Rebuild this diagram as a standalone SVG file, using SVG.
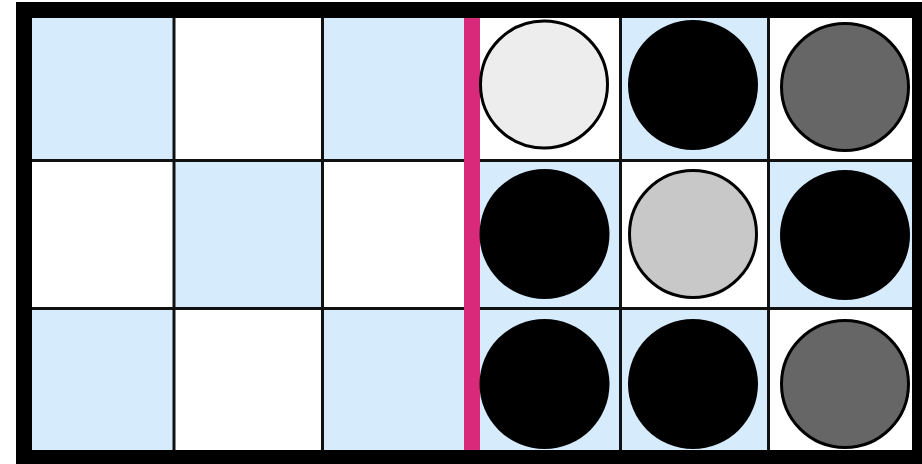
<svg xmlns="http://www.w3.org/2000/svg" width="922" height="464" viewBox="0 0 922 464">
<style>
.b{fill:#D6ECFD}
.w{fill:#FFFFFF}
.grid{stroke:#111111;stroke-width:3;fill:none}
.pk{stroke:none;fill:#000000}
.lt{fill:#EDEDED;stroke:#000000;stroke-width:3}
.md{fill:#C8C8C8;stroke:#000000;stroke-width:3}
.dk{fill:#666666;stroke:#000000;stroke-width:3}
</style>
<rect x="0" y="0" width="922" height="464" fill="#FFFFFF"/>
<g id="cells">
<rect class="b" x="32" y="18" width="142" height="142.5"/>
<rect class="w" x="174" y="18" width="148.5" height="142.5"/>
<rect class="b" x="322.5" y="18" width="149.5" height="142.5"/>
<rect class="w" x="472" y="18" width="148.5" height="142.5"/>
<rect class="b" x="620.5" y="18" width="148" height="142.5"/>
<rect class="w" x="768.5" y="18" width="143.5" height="142.5"/>
<rect class="w" x="32" y="160.5" width="142" height="148"/>
<rect class="b" x="174" y="160.5" width="148.5" height="148"/>
<rect class="w" x="322.5" y="160.5" width="149.5" height="148"/>
<rect class="b" x="472" y="160.5" width="148.5" height="148"/>
<rect class="w" x="620.5" y="160.5" width="148" height="148"/>
<rect class="b" x="768.5" y="160.5" width="143.5" height="148"/>
<rect class="b" x="32" y="308.5" width="142" height="141.5"/>
<rect class="w" x="174" y="308.5" width="148.5" height="141.5"/>
<rect class="b" x="322.5" y="308.5" width="149.5" height="141.5"/>
<rect class="b" x="472" y="308.5" width="148.5" height="141.5"/>
<rect class="b" x="620.5" y="308.5" width="148" height="141.5"/>
<rect class="w" x="768.5" y="308.5" width="143.5" height="141.5"/>
</g>
<g id="grid" class="grid">
<line x1="174" y1="10" x2="174" y2="458"/>
<line x1="322.5" y1="10" x2="322.5" y2="458"/>
<line x1="620.5" y1="10" x2="620.5" y2="458"/>
<line x1="768.5" y1="10" x2="768.5" y2="458"/>
<line x1="24" y1="160.5" x2="920" y2="160.5"/>
<line x1="24" y1="308.5" x2="920" y2="308.5"/>
</g>
<g id="divider">
<rect x="464" y="18" width="16" height="432" fill="#D9297A"/>
</g>
<g id="pieces">
<g id="p-0-3"><circle class="lt" cx="544" cy="84.5" r="63.5"/></g>
<g id="p-0-4"><circle class="pk" cx="693" cy="85" r="65"/></g>
<g id="p-0-5"><circle class="dk" cx="845" cy="87" r="63.5"/></g>
<g id="p-1-3"><circle class="pk" cx="544.5" cy="234" r="65"/></g>
<g id="p-1-4"><circle class="md" cx="693" cy="234" r="63.5"/></g>
<g id="p-1-5"><circle class="pk" cx="845" cy="235" r="65"/></g>
<g id="p-2-3"><circle class="pk" cx="544.5" cy="384" r="65"/></g>
<g id="p-2-4"><circle class="pk" cx="693" cy="384" r="65"/></g>
<g id="p-2-5"><circle class="dk" cx="845" cy="384" r="63.5"/></g>
</g>
<g id="frame">
<rect x="24" y="10" width="896" height="448" fill="none" stroke="#000000" stroke-width="16"/>
</g>
</svg>
